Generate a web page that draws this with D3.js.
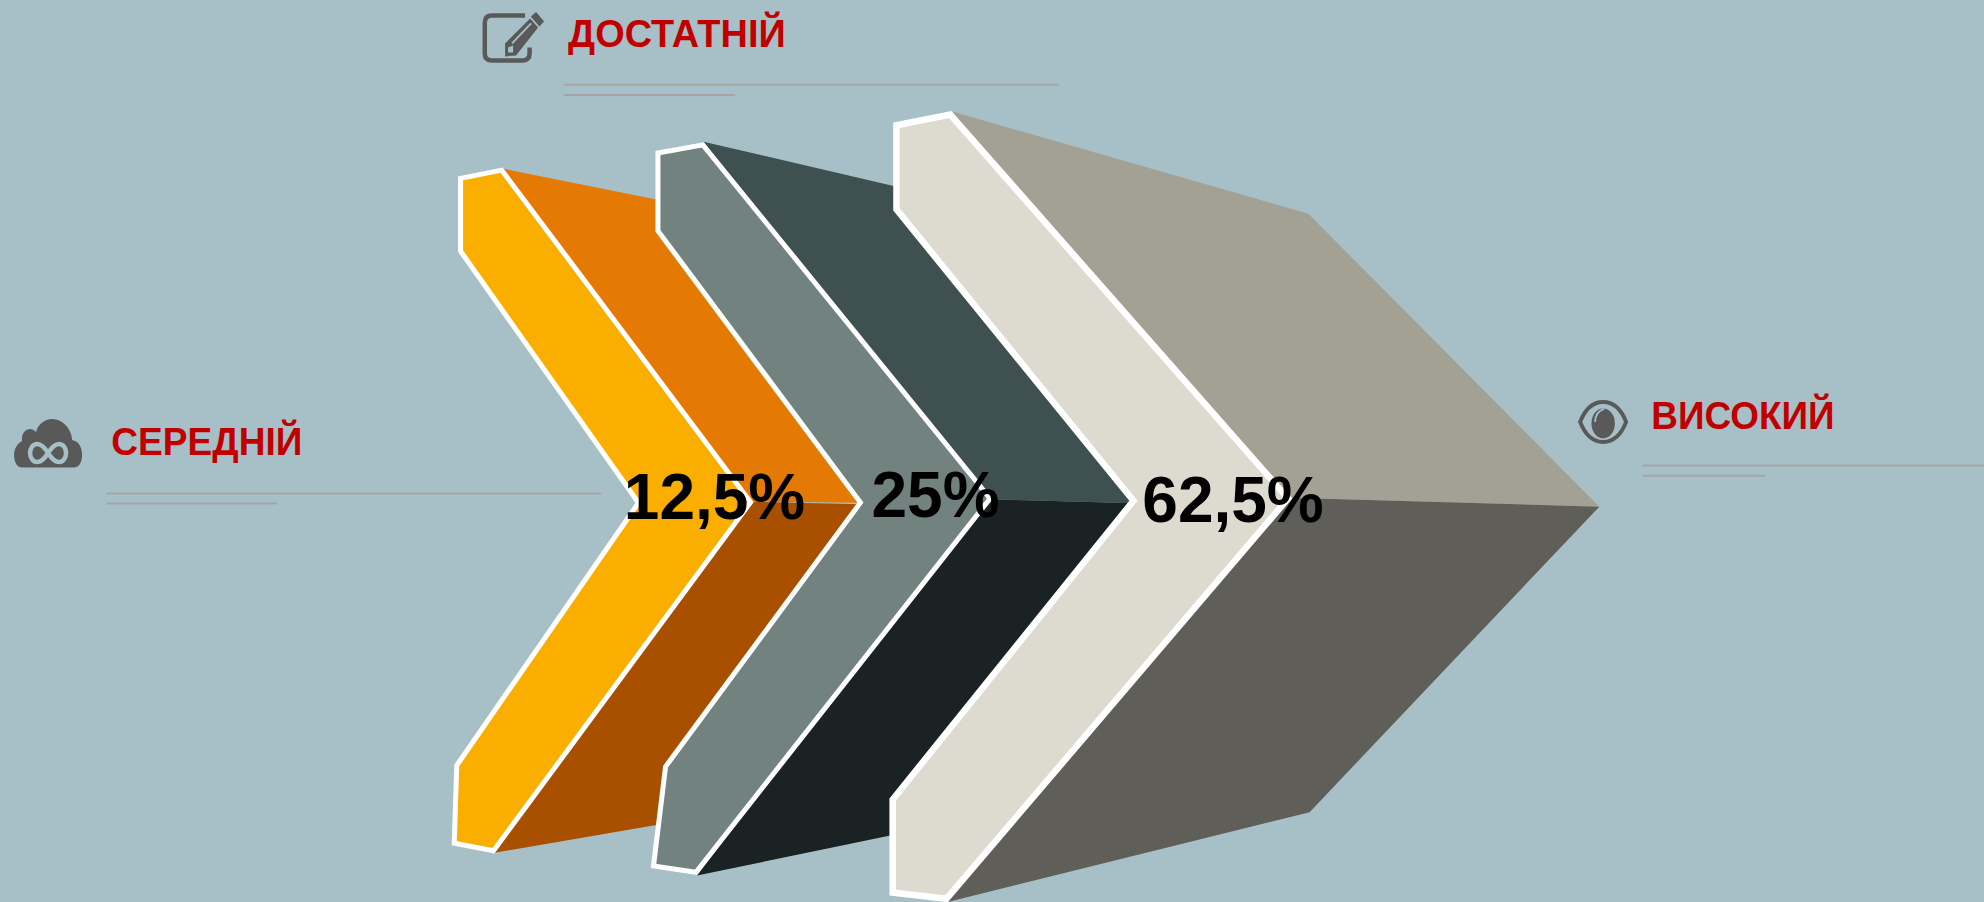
<!DOCTYPE html>
<html><head><meta charset="utf-8">
<script src="https://cdn.jsdelivr.net/npm/d3@7/dist/d3.min.js"></script>
<style>html,body{margin:0;padding:0;background:#a7c0c8;overflow:hidden}svg{display:block}</style>
</head><body><svg id="c" width="1984" height="902"></svg>
<script>
// Data
const levels = ["СЕРЕДНІЙ", "ДОСТАТНІЙ", "ВИСОКИЙ"];
const shares = [12.5, 25, 62.5];

// Shape outlines in its shrunk 1568x713 space
const faceYellow = [[364,141],[396.5,134.5],[593.2,397],[390,672.5],[359,666.5],[361,605],[504.6,397.5],[364,198.5]];
const faceGray   = [[520,121],[555.5,114.5],[782.5,394],[550,689.5],[516.5,684.5],[526,606],[680,397.3],[520,182.5]];
const faceLight  = [[708.5,99],[751,90.5],[1018,394],[748,710.5],[705.5,705.5],[705.5,632],[895.8,395.8],[708.5,165.5]];
const upperOrange = [[396,133],[560,166],[681,397.5],[590,396.5]];
const lowerOrange = [[590,396.5],[681,398.5],[560,645],[391,674]];
const upperDark   = [[556,112],[740,155],[897,397.8],[775,394.5]];
const lowerDark   = [[775,394.5],[897,397.8],[740,653],[551,692]];
const upperGrey   = [[752,88],[1034,169],[1264,400.5],[1000,393]];
const lowerGrey   = [[1000,393],[1264,400.5],[1035,642],[749,713]];
const labelAnchors = [[88,360],[449,37],[1305,339]];
const labelWidths = [151,172,145];
const shareAnchors = [[564.7,410.2],[739.4,408.6],[974.5,412.6]];
const ruleStarts = [[84,390,475,219],[446,67,837,581],[1298,368,1568,1395]];

const x = d3.scaleLinear().domain([0,1568]).range([0,1984]);
const y = d3.scaleLinear().domain([0,713]).range([0,902]);
const svg = d3.select("#c");
svg.append("rect").attr("width",1984).attr("height",902).attr("fill","#a7c0c8");
const line = d3.line().x(d=>x(d[0])).y(d=>y(d[1])).curve(d3.curveLinearClosed);

const bands = [[upperGrey,"#a3a094"],[lowerGrey,"#5f5e58"],[upperDark,"#3f5050"],[lowerDark,"#1a2224"],[upperOrange,"#e47a04"],[lowerOrange,"#a85000"]];
svg.selectAll("path.band").data(bands).join("path").attr("class","band")
  .attr("d",d=>line(d[0])).attr("fill",d=>d[1]);
const faces = [[faceLight,"#dddad0",6.5],[faceGray,"#72827f",5],[faceYellow,"#faae00",5]];
svg.selectAll("path.face").data(faces).join("path").attr("class","face")
  .attr("d",d=>line(d[0])).attr("fill",d=>d[1]).attr("stroke","#fff").attr("stroke-width",d=>d[2]).attr("stroke-linejoin","miter");

const font = "'Liberation Sans',Arial,sans-serif";
svg.selectAll("text.level").data(levels).join("text").attr("class","level")
  .attr("x",(d,i)=>x(labelAnchors[i][0])).attr("y",(d,i)=>y(labelAnchors[i][1]))
  .attr("textLength",(d,i)=>x(labelWidths[i])).attr("lengthAdjust","spacingAndGlyphs")
  .attr("font-family",font).attr("font-weight","bold").attr("font-size",39).attr("fill","#c00000")
  .text(d=>d);
const fmt = v => String(v).replace(".",",")+"%";
svg.selectAll("text.share").data(shares).join("text").attr("class","share")
  .attr("x",(d,i)=>x(shareAnchors[i][0])).attr("y",(d,i)=>y(shareAnchors[i][1]))
  .attr("text-anchor","middle").attr("font-family",font).attr("font-weight","bold").attr("font-size",64).attr("fill","#000")
  .text(fmt);

ruleStarts.forEach(r=>{
  [[r[1],r[2]],[r[1]+8,r[3]]].forEach(s=>{
    svg.append("line").attr("x1",x(r[0])).attr("x2",x(s[1])).attr("y1",y(s[0])).attr("y2",y(s[0]))
      .attr("stroke","#a2a6a7").attr("stroke-width",2);
  });
});

// Icons
const ink="#595959", bg="#a7c0c8";
const cloud = svg.append("g").attr("transform",`translate(${x(38)},${y(351)})`);
cloud.append("path").attr("fill",ink).attr("d","M-26,23.5 C-31,23.5 -34,18 -34,11 C-34,4 -30,-1 -26,-3 C-27,-10 -23,-15 -18,-15 C-16,-15 -14,-14 -12,-12 C-10,-21 -2,-25 4,-25 C15,-25 24,-14 24,-4 C31,-3 34,4 34,11 C34,18 31,23.5 26,23.5 Z");
cloud.append("path").attr("fill","none").attr("stroke",bg).attr("stroke-width",4.5)
  .attr("d","M0,9 C-5,1 -8,0 -11,0 C-15,0 -18,4 -18,9 C-18,14 -15,18 -11,18 C-8,18 -5,17 0,9 C5,1 8,0 11,0 C15,0 18,4 18,9 C18,14 15,18 11,18 C8,18 5,17 0,9 Z");

const edit = svg.append("g").attr("transform",`translate(${x(381)-482},${y(9)-11})`);
edit.append("path").attr("fill","none").attr("stroke",ink).attr("stroke-width",4.5)
  .attr("d","M525,15 L492,15 Q484.7,15 484.7,22 L484.7,53 Q484.7,60 492,60 L522,60 Q529.5,60 529.5,53 L529.5,47");
edit.append("path").attr("fill",ink).attr("d","M530.7,16 L536,11.5 L544,21 L539.3,26 Z");
edit.append("path").attr("fill",ink).attr("d","M530,18 L538,27 L516,55 L505,56 L505,43 Z");
edit.append("path").attr("stroke",bg).attr("stroke-width",1.8).attr("d","M512,43 L531,23");
edit.append("path").attr("fill",bg).attr("d","M508,47 L513,45 L513,52 L508,52 Z");

const eye = svg.append("g").attr("transform",`translate(${x(1267)},${y(333.5)})`);
eye.append("path").attr("fill","none").attr("stroke",ink).attr("stroke-width",4)
  .attr("d","M-23,0 C-18,-13 -10,-20 0,-20 C10,-20 18,-13 23,0 C18,13 10,20 0,20 C-10,20 -18,13 -23,0 Z");
eye.append("ellipse").attr("cy",1.5).attr("rx",11.7).attr("ry",15).attr("fill",ink);
eye.append("path").attr("fill","none").attr("stroke",bg).attr("stroke-width",1.8).attr("d","M-8,0 Q-8,-10 1,-13");
</script></body></html>
